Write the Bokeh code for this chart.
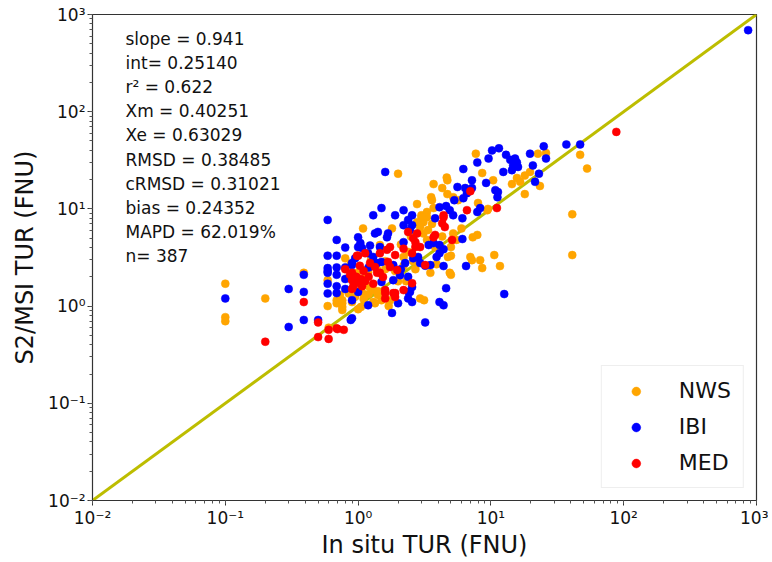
import math
from bokeh.plotting import figure
from bokeh.models import Label, Legend, LegendItem, CustomJSTickFormatter, LogTicker
from bokeh.embed import file_html
from bokeh.resources import INLINE

# ---------------- data ----------------
nws_x = [0.1, 0.1, 0.1, 0.2, 0.39, 0.6, 0.59, 0.59, 0.69, 0.76, 0.76, 0.8, 0.9, 0.69, 0.76, 0.76,
         2.0, 0.98, 1.07, 1.13, 1.2, 1.1, 1.3, 1.34, 1.0, 1.41, 1.5, 1.74, 2.93, 3.14, 3.5, 5.0,
         8.3, 8.6, 10.6, 11.7, 7.0, 7.2, 41, 41, 7.9, 7.3, 5.2, 5.5, 5.0, 3.8, 4.75,
         7.7, 22.6, 26, 19.7, 15.7, 16.6, 18, 14.4, 18, 23.4, 8.6, 10.4, 9.4, 4.7, 3.7, 4.3, 4.7,
         5.2, 5.66, 2.78, 3.55, 3.6, 3.7, 3.3, 3.0, 3.3, 3.1, 1.09, 1.8, 1.46, 2.78, 2.93, 3.1,
         3.36, 3.0, 1.39, 1.6, 2.0, 2.3, 1.09, 0.98, 1.19, 3.3, 4.9, 47, 53, 9.5, 8.0, 4.65,
         1.3, 5.0, 1.41, 1.2, 1.6, 2.2, 2.6, 1.9, 2.4, 2.1, 0.85, 0.95, 1.25, 0.88, 1.05, 1.7,
         2.7, 3.9, 4.3, 6.0, 2.5, 3.6, 2.2, 1.15, 0.73]
nws_y = [1.7, 0.77, 0.70, 1.2, 2.2, 0.6, 1.85, 1.0, 1.07, 1.15, 0.91, 3.1, 1.1, 1.15, 1.07, 0.98,
         23, 1.5, 1.38, 1.3, 1.33, 1.18, 1.46, 1.07, 0.93, 1.3, 1.15, 1.15, 1.2, 1.15, 2.2, 2.1,
         2.97, 2.46, 3.35, 2.58, 3.2, 2.97, 8.8, 3.35, 5.4, 5.1, 5.6, 4.8, 4.05, 4.05, 3.2,
         37, 37, 37.5, 24, 20.8, 19, 22, 18, 14.2, 17.2, 23.4, 19.7, 9.7, 19.7, 18, 16.4, 14.2,
         13.2, 12.3, 11.2, 13.2, 12.3, 10.2, 9.3, 8.6, 8.2, 7.3, 6.3, 6.3, 4.25, 7.3, 6.5, 5.6,
         6.05, 8.2, 2.4, 2.4, 1.8, 1.8, 2.35, 2.2, 2.25, 4.8, 2.2, 36, 26, 10, 11.5, 21,
         1.1, 3.3, 1.42, 1.6, 2.9, 3.2, 2.9, 2.3, 3.6, 4.3, 1.35, 1.25, 3.0, 2.7, 0.98, 1.0,
         2.4, 2.7, 5.2, 6.3, 5.2, 7.0, 2.6, 2.0, 1.3]

ibi_x = [0.1, 0.3, 0.3, 0.39, 0.39, 0.39, 0.59, 0.59, 0.59, 0.59, 0.69, 0.69, 0.69, 0.69, 0.69,
         0.69, 0.8, 0.8, 0.9, 0.9, 0.9, 1.0, 1.6, 0.59, 0.59, 0.59, 0.5, 0.88, 1.0, 0.9, 1.0,
         1.19, 1.8, 2.0, 2.4, 2.55, 2.38, 3.2, 4.1, 4.4, 4.6, 3.5, 4.4, 6.5, 12.6, 6.1, 4.4,
         4.1, 3.9, 10.2, 11.5, 7.9, 9.6, 13, 14.0, 15.2, 15.7, 14.7, 16, 14.4, 12.4, 19.7, 25,
         37, 47, 26, 20.7, 21.5, 23, 6.2, 7.2, 7.2, 9.2, 10.8, 11.3, 11.2, 8.3, 7.9, 6.4, 6.6,
         6.2, 5.6, 5.3, 4.1, 4.6, 4.9, 5.2, 6.1, 3.8, 2.55, 2.38, 2.55, 2.2, 1.9, 1.5, 1.3,
         1.34, 1.41, 1.23, 1.46, 1.65, 1.68, 2.2, 2.46, 2.2, 3.7, 4.1, 1.04, 1.07, 1.19, 1.3,
         1.39, 1.5, 1.84, 2.07, 1.84, 2.26, 2.83, 2.93, 2.6, 3.4, 2.46, 2.38, 2.55, 1.5, 3.2,
         865, 2.1, 1.2, 0.95, 1.1, 0.8, 0.8]
ibi_y = [1.2, 1.5, 0.61, 2.1, 1.4, 0.72, 2.3, 1.7, 2.2, 1.35, 3.3, 2.5, 2.1, 1.6, 1.36,
         4.8, 4.0, 2.5, 2.64, 1.15, 0.75, 4.05, 24, 7.7, 3.3, 2.46, 0.72, 0.72, 5.1, 2.77, 1.4,
         1.02, 0.85, 1.07, 1.4, 1.57, 2.0, 0.68, 1.1, 1.02, 1.53, 2.64, 2.58, 2.58, 1.33, 4.9, 3.85,
         3.5, 3.2, 40, 42, 30, 33, 36, 32, 33, 30, 28, 27, 25, 24, 37, 44,
         46, 46, 33, 28, 19, 23, 25.7, 19.7, 16.4, 18.5, 15.6, 14.9, 13.2, 10.2, 9.3, 16.4, 14.5,
         12.9, 16.8, 12.3, 10.4, 10.7, 9.7, 8.6, 8.0, 8.0, 8.6, 7.7, 6.8, 9.7, 8.6, 10.2, 8.6,
         5.6, 5.8, 4.2, 4.05, 5.1, 5.6, 6.8, 6.05, 4.55, 4.45, 4.25, 4.45, 3.95, 3.5, 3.2,
         2.77, 2.85, 2.64, 2.08, 1.85, 2.77, 3.2, 2.77, 3.1, 4.25, 1.4, 1.2, 1.1, 1.77, 2.6,
         690, 2.4, 2.5, 3.1, 1.8, 1.9, 1.5]

med_x = [0.2, 0.39, 0.5, 0.5, 0.6, 0.6, 0.7, 0.78, 0.9, 1.0, 0.69, 1.03, 0.87, 0.97, 1.05,
         1.13, 1.0, 0.9, 0.92, 1.07, 0.9, 1.6, 1.9, 2.2, 2.55, 3.2, 5.1, 3.7, 11.1, 7.0, 6.6,
         4.4, 2.38, 2.6, 2.7, 2.78, 3.8, 4.4, 4.3, 4.5, 0.98, 1.13, 1.46, 1.65, 1.74, 1.9, 1.68,
         1.23, 1.34, 1.46, 1.54, 1.39, 1.74, 1.97, 2.93, 2.7, 2.55, 2.2, 1.84, 1.9, 1.6, 1.6,
         88, 1.2, 1.1, 0.8, 1.3]
med_y = [0.43, 1.1, 0.68, 0.48, 0.57, 0.46, 0.58, 0.57, 2.2, 3.3, 0.59, 2.6, 2.1, 2.0, 1.9,
         1.8, 1.75, 1.85, 1.6, 1.6, 1.5, 1.36, 1.36, 1.46, 1.72, 2.64, 4.8, 5.1, 10.2, 15.2, 9.7,
         8.6, 5.8, 5.0, 4.55, 5.6, 5.4, 8.2, 7.1, 6.5, 3.3, 3.5, 3.5, 3.8, 4.05, 3.35, 2.85,
         2.77, 2.52, 2.2, 1.99, 2.2, 2.52, 2.35, 4.05, 4.05, 3.5, 3.9, 1.36, 1.24, 1.46, 1.2,
         62, 2.0, 2.3, 2.4, 1.7]

series_names = ["NWS", "IBI", "MED"]
series_colors = ["#FFA500", "#0000FF", "#FF0000"]

stats_lines = ["slope = 0.941", "int= 0.25140", "r\u00b2 = 0.622", "Xm = 0.40251",
               "Xe = 0.63029", "RMSD = 0.38485", "cRMSD = 0.31021", "bias = 0.24352",
               "MAPD = 62.019%", "n= 387"]

axis_min, axis_max = 1e-2, 1e3
x_title = "In situ TUR (FNU)"
y_title = "S2/MSI TUR (FNU)"

# ---------------- figure ----------------
p = figure(width=768, height=562, x_axis_type="log", y_axis_type="log",
           x_range=(axis_min, axis_max), y_range=(axis_min, axis_max),
           output_backend="svg", toolbar_location=None,
           min_border_left=92, min_border_right=12, min_border_top=14, min_border_bottom=62)
p.xgrid.visible = False
p.ygrid.visible = False
p.outline_line_color = "#333333"
p.outline_line_width = 1.2
p.background_fill_color = "white"
p.border_fill_color = "white"

sup_code = """
const e = Math.round(Math.log10(tick));
const sup = {'-':'\u207b','0':'\u2070','1':'\u00b9','2':'\u00b2','3':'\u00b3','4':'\u2074',
             '5':'\u2075','6':'\u2076','7':'\u2077','8':'\u2078','9':'\u2079'};
return '10' + String(e).split('').map(c => sup[c]).join('');
"""
for ax in (p.xaxis[0], p.yaxis[0]):
    ax.ticker = LogTicker(num_minor_ticks=10)
    ax.formatter = CustomJSTickFormatter(code=sup_code)
    ax.major_label_text_font = "DejaVu Sans"
    ax.major_label_text_font_size = "17px"
    ax.major_label_text_color = "#111111"
    ax.major_label_standoff = 2
    ax.axis_line_color = "#333333"
    ax.major_tick_line_color = "#333333"
    ax.minor_tick_line_color = "#555555"
    ax.major_tick_out = 5
    ax.major_tick_in = 0
    ax.minor_tick_out = 3
    ax.minor_tick_in = 0
    ax.axis_label_text_font = "DejaVu Sans"
    ax.axis_label_text_font_size = "24px"
    ax.axis_label_text_font_style = "normal"
    ax.axis_label_text_color = "#111111"
p.xaxis[0].axis_label = x_title
p.yaxis[0].axis_label = y_title
p.xaxis[0].axis_label_standoff = 0
p.yaxis[0].axis_label_standoff = 6

# 1:1 line
p.line([axis_min, axis_max], [axis_min, axis_max], line_color="#BDBD00", line_width=3)

# scatter series
xs = [nws_x, ibi_x, med_x]
ys = [nws_y, ibi_y, med_y]
items = []
for name, color, sx, sy in zip(series_names, series_colors, xs, ys):
    r = p.scatter(sx, sy, size=8, marker="circle", fill_color=color, line_color=color, line_width=0.5)
    items.append(LegendItem(label=name, renderers=[r]))

legend = Legend(items=items, location="bottom_right", padding=12, margin=12,
                glyph_width=44, glyph_height=22, label_height=22, spacing=11,
                label_standoff=21, label_text_font="DejaVu Sans",
                label_text_font_size="22px", label_text_color="#111111",
                border_line_color="#DDDDDD", border_line_width=1,
                background_fill_color="white", background_fill_alpha=0.9)
p.add_layout(legend, "center")

# statistics text
lx0, lx1 = math.log10(axis_min), math.log10(axis_max)
def frac_to_data(fx, fy_from_top):
    return 10 ** (lx0 + fx * (lx1 - lx0)), 10 ** (lx1 - fy_from_top * (lx1 - lx0))

frame_w, frame_h = 664.0, 486.0
for i, line in enumerate(stats_lines):
    tx, ty = frac_to_data(33.0 / frame_w, (24.0 + i * 24.2) / frame_h)
    p.add_layout(Label(x=tx, y=ty, text=line, text_font="DejaVu Sans",
                       text_font_size="17px", text_color="#111111",
                       text_baseline="middle", text_align="left"))

open("out.html", "w").write(file_html(p, INLINE))
